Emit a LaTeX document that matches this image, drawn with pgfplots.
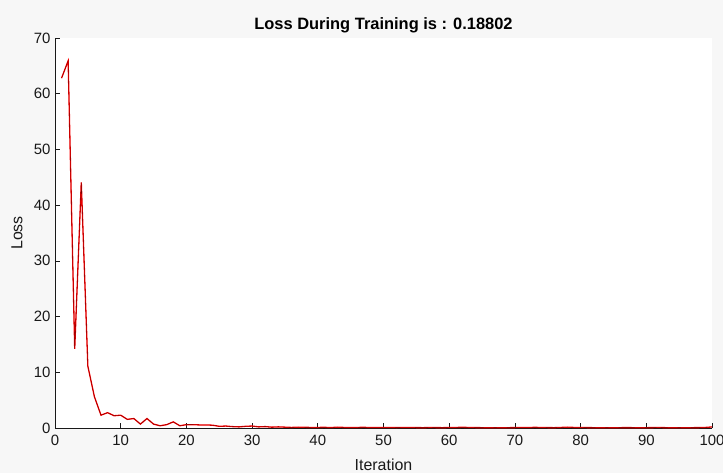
\documentclass[border=0pt]{standalone}
\usepackage{pgfplots}
\pgfplotsset{compat=1.18}
\usepackage{fontspec}
\setmainfont{Liberation Sans}
\definecolor{figbg}{RGB}{247,247,247}
\definecolor{axcol}{RGB}{25,25,25}

\pgfplotstableread{
it loss
1 62.8
2 65.9
3 14.2
4 44.1
5 11.1
6 5.6
7 2.3
8 2.75
9 2.2
10 2.3
11 1.55
12 1.7
13 0.7
14 1.7
15 0.7
16 0.4
17 0.6
18 1.1
19 0.4
20 0.6
21 0.6
22 0.55
23 0.55
24 0.5
25 0.3
26 0.35
27 0.25
28 0.2
29 0.3
30 0.35
31 0.2
32 0.25
33 0.15
34 0.2
35 0.15
36 0.1
37 0.15
38 0.12
39 0.1
40 0.1
41 0.12
42 0.08
43 0.15
44 0.1
45 0.08
46 0.1
47 0.12
48 0.08
49 0.1
50 0.09
51 0.1
52 0.07
53 0.08
54 0.1
55 0.07
56 0.06
57 0.08
58 0.07
59 0.06
60 0.08
61 0.1
62 0.12
63 0.1
64 0.07
65 0.06
66 0.05
67 0.06
68 0.05
69 0.06
70 0.07
71 0.1
72 0.08
73 0.12
74 0.09
75 0.07
76 0.06
77 0.1
78 0.15
79 0.1
80 0.08
81 0.07
82 0.06
83 0.05
84 0.06
85 0.05
86 0.06
87 0.07
88 0.06
89 0.05
90 0.06
91 0.07
92 0.08
93 0.06
94 0.05
95 0.06
96 0.05
97 0.06
98 0.07
99 0.1
100 0.188
}\losstable

\begin{document}
\begin{tikzpicture}[x=1bp,y=1bp]
\fill[figbg] (0,0) rectangle (723,473);
\useasboundingbox (0,0) rectangle (723,473);
\begin{axis}[
  at={(55bp,45bp)}, anchor=south west,
  scale only axis, width=657bp, height=390bp,
  xmin=0, xmax=100, ymin=0, ymax=70,
  xtick={0,10,...,100}, ytick={0,10,...,70},
  axis lines*=left,
  axis line style={axcol, line width=0.8pt, -},
  axis background/.style={fill=white},
  tick style={axcol, line width=0.7pt},
  tick align=inside,
  major tick length=5bp,
  ticklabel style={font=\fontsize{15}{17}\selectfont, text=axcol},
  xticklabel style={yshift=-4bp},
  yticklabel style={xshift=-1bp},
  /pgf/number format/assume math mode=true,
  title={\textbf{Loss During Training is : 0.18802}},
  title style={font=\fontsize{16.5}{19}\selectfont, text=black, yshift=-4bp},
  xlabel={Iteration}, ylabel={Loss},
  label style={font=\fontsize{16}{18}\selectfont, text=axcol},
  xlabel style={at={(axis description cs:0.5,-0.0949)}, anchor=center},
  ylabel style={at={(axis description cs:-0.0578,0.5)}, anchor=center},
  clip=false,
]
\addplot[red, line width=1.3pt] table[x=it,y=loss] {\losstable};
\addplot[black!55!red, line width=0.35pt] table[x=it,y=loss] {\losstable};
\end{axis}
\end{tikzpicture}
\end{document}
